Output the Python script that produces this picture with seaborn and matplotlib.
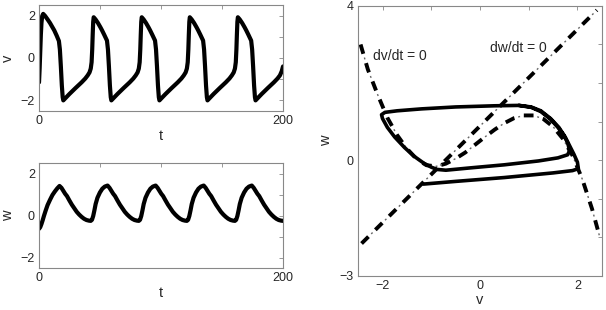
import numpy as np
import pandas as pd
import matplotlib
matplotlib.use('Agg')
import matplotlib.pyplot as plt
import seaborn as sns

# v(t)
t_v = [0, 0.5, 1.0, 1.5, 2.0, 2.6, 3.4, 5, 7, 9, 11, 12.5, 14.5, 16.3, 17.1, 17.9, 18.7, 19.4,
       19.9, 21.9, 24.9, 29.9, 34.9, 37.9, 39.9, 41.4, 42.4, 43.1, 43.6, 44.0, 44.4, 44.8, 46.3, 48.3, 50.3, 51.6, 53.4, 55.7, 56.5, 57.3, 58.1, 58.8,
       59.3, 61.3, 64.3, 69.3, 74.3, 77.3, 79.3, 80.8, 81.8, 82.5, 83.0, 83.4, 83.8, 84.2, 85.7, 87.7, 89.7, 91.0, 92.8, 95.1, 95.9, 96.7, 97.5, 98.2,
       98.7, 100.7, 103.7, 108.7, 113.7, 116.7, 118.7, 120.2, 121.2, 121.9, 122.4, 122.8, 123.2, 123.6, 125.1, 127.1, 129.1, 130.4, 132.2, 134.5, 135.3, 136.1, 136.9, 137.6,
       138.1, 140.1, 143.1, 148.1, 153.1, 156.1, 158.1, 159.6, 160.6, 161.3, 161.8, 162.2, 162.6, 163.0, 164.5, 166.5, 168.5, 169.8, 171.6, 173.9, 174.7, 175.5, 176.3, 177.0,
       177.5, 179.5, 182.5, 187.5, 192.5, 195.5, 197.5, 199.0, 200]
v_vals = [-1.15, -0.5, 0.3, 1.1, 1.65, 1.98, 2.08, 1.98, 1.82, 1.65, 1.45, 1.3, 1.05, 0.8, 0.4, -0.4, -1.3, -1.85,
          -2.0, -1.88, -1.7, -1.42, -1.15, -0.97, -0.82, -0.68, -0.5, -0.2, 0.4, 1.1, 1.7, 1.92, 1.82, 1.65, 1.45, 1.31, 1.1, 0.82, 0.4, -0.4, -1.3, -1.85,
          -2.0, -1.88, -1.7, -1.42, -1.15, -0.97, -0.82, -0.68, -0.5, -0.2, 0.4, 1.1, 1.7, 1.92, 1.82, 1.65, 1.45, 1.31, 1.1, 0.82, 0.4, -0.4, -1.3, -1.85,
          -2.0, -1.88, -1.7, -1.42, -1.15, -0.97, -0.82, -0.68, -0.5, -0.2, 0.4, 1.1, 1.7, 1.92, 1.82, 1.65, 1.45, 1.31, 1.1, 0.82, 0.4, -0.4, -1.3, -1.85,
          -2.0, -1.88, -1.7, -1.42, -1.15, -0.97, -0.82, -0.68, -0.5, -0.2, 0.4, 1.1, 1.7, 1.92, 1.82, 1.65, 1.45, 1.31, 1.1, 0.82, 0.4, -0.4, -1.3, -1.85,
          -2.0, -1.88, -1.7, -1.42, -1.15, -0.97, -0.82, -0.62, -0.4]

# w(t)
t_w = [0, 1, 2, 3, 4, 5.5, 7, 9, 11, 13, 15, 16.8,
       18.4, 19.9, 21.4, 22.9, 24.9, 26.9, 28.9, 30.9, 32.9, 34.9, 36.9, 38.9, 40.9, 42.4, 43.4, 44.4, 45.4, 46.4, 47.9, 49.9, 51.9, 53.9, 56.2,
       57.8, 59.3, 60.8, 62.3, 64.3, 66.3, 68.3, 70.3, 72.3, 74.3, 76.3, 78.3, 80.3, 81.8, 82.8, 83.8, 84.8, 85.8, 87.3, 89.3, 91.3, 93.3, 95.6,
       97.2, 98.7, 100.2, 101.7, 103.7, 105.7, 107.7, 109.7, 111.7, 113.7, 115.7, 117.7, 119.7, 121.2, 122.2, 123.2, 124.2, 125.2, 126.7, 128.7, 130.7, 132.7, 135.0,
       136.6, 138.1, 139.6, 141.1, 143.1, 145.1, 147.1, 149.1, 151.1, 153.1, 155.1, 157.1, 159.1, 160.6, 161.6, 162.6, 163.6, 164.6, 166.1, 168.1, 170.1, 172.1, 174.4,
       176.0, 177.5, 179.0, 180.5, 182.5, 184.5, 186.5, 188.5, 190.5, 192.5, 194.5, 196.5, 198.5, 200.0]
w_vals = [-0.63, -0.55, -0.4, -0.22, -0.02, 0.25, 0.5, 0.75, 0.98, 1.15, 1.3, 1.41,
          1.32, 1.18, 1.04, 0.93, 0.72, 0.52, 0.35, 0.18, 0.05, -0.06, -0.15, -0.21, -0.24, -0.25, -0.2, -0.02, 0.25, 0.55, 0.85, 1.1, 1.28, 1.38, 1.43,
          1.32, 1.18, 1.04, 0.93, 0.72, 0.52, 0.35, 0.18, 0.05, -0.06, -0.15, -0.21, -0.24, -0.25, -0.2, -0.02, 0.25, 0.55, 0.85, 1.1, 1.28, 1.38, 1.43,
          1.32, 1.18, 1.04, 0.93, 0.72, 0.52, 0.35, 0.18, 0.05, -0.06, -0.15, -0.21, -0.24, -0.25, -0.2, -0.02, 0.25, 0.55, 0.85, 1.1, 1.28, 1.38, 1.43,
          1.32, 1.18, 1.04, 0.93, 0.72, 0.52, 0.35, 0.18, 0.05, -0.06, -0.15, -0.21, -0.24, -0.25, -0.2, -0.02, 0.25, 0.55, 0.85, 1.1, 1.28, 1.38, 1.43,
          1.32, 1.18, 1.04, 0.93, 0.72, 0.52, 0.35, 0.18, 0.05, -0.06, -0.15, -0.21, -0.24, -0.25]

# phase plane trajectory (v, w)
traj_v = [-1.16, -0.5, 0.5, 1.5, 1.9, 2.02, 2.0, 1.93, 1.85, 1.75, 1.62, 1.45, 1.25, 1.05, 0.8, 0.3, -0.5, -1.2, -1.7, -1.95,
          -2.02, -2.0, -1.9, -1.75, -1.55, -1.35, -1.15, -1.0, -0.88, -0.7, -0.2, 0.5, 1.2, 1.6, 1.8, 1.84, 1.8, 1.72, 1.6,
          1.45, 1.25, 1.05, 0.8]
traj_w = [-0.62, -0.55, -0.45, -0.33, -0.27, -0.22, -0.05, 0.15, 0.35, 0.6, 0.85, 1.08, 1.28, 1.38, 1.42, 1.41, 1.38, 1.33, 1.28, 1.24,
          1.18, 1.08, 0.85, 0.6, 0.33, 0.1, -0.08, -0.18, -0.24, -0.26, -0.2, -0.12, -0.02, 0.06, 0.14, 0.25, 0.45, 0.65, 0.85,
          1.06, 1.26, 1.37, 1.42]

# nullclines
cubic_v = [-2.45, -2.3, -2.1, -1.9, -1.7, -1.5, -1.3, -1.1, -0.9, -0.7, -0.5, -0.3, -0.1, 0.1, 0.3, 0.5, 0.7, 0.9, 1.1, 1.3,
           1.5, 1.7, 1.9, 2.1, 2.3, 2.45]
cubic_w = [3.0, 2.35, 1.7, 1.1, 0.65, 0.3, 0.03, -0.13, -0.16, -0.09, 0.04, 0.2, 0.4, 0.6, 0.79, 0.96, 1.09, 1.16, 1.16, 1.07,
           0.87, 0.56, 0.12, -0.49, -1.26, -1.95]
lin_v = [-2.43, 2.4]
lin_w = [-2.16, 3.89]

sns.set_style('white')
plt.rcParams['font.family'] = ['Liberation Sans', 'DejaVu Sans']

fig = plt.figure(figsize=(6.06, 3.10), dpi=100)
ax1 = fig.add_axes([0.0644, 0.642, 0.4026, 0.342])
ax2 = fig.add_axes([0.0644, 0.135, 0.4026, 0.339])
ax3 = fig.add_axes([0.591, 0.110, 0.402, 0.871])

sns.lineplot(x=t_v, y=v_vals, ax=ax1, color='k', lw=3, sort=False, estimator=None)
sns.lineplot(x=t_w, y=w_vals, ax=ax2, color='k', lw=3, sort=False, estimator=None)

# nullclines: thick dashes with faint thin dots in the gaps
for xs, ys in ((cubic_v, cubic_w), (lin_v, lin_w)):
    sns.lineplot(x=xs, y=ys, ax=ax3, color='k', lw=2.8, sort=False, estimator=None,
                 linestyle=(0, (2.5, 2.5)))
    sns.lineplot(x=xs, y=ys, ax=ax3, color='#666666', lw=1.0, sort=False, estimator=None,
                 linestyle=(4.2, (1.4, 12.6)))
sns.lineplot(x=traj_v, y=traj_w, ax=ax3, color='k', lw=2.6, sort=False, estimator=None)

for ax in (ax1, ax2):
    ax.set_xlim(0, 200)
    ax.set_ylim(-2.5, 2.5)
    ax.set_xticks([0, 50, 100, 150, 200], ['0', '', '', '', '200'])
    ax.set_yticks([-2, -1, 0, 1, 2], ['\u22122', '', '0', '', '2'])
    ax.set_xlabel('t', fontsize=10.5, labelpad=1)
ax1.set_ylabel('v', fontsize=10.5, labelpad=4)
ax2.set_ylabel('w', fontsize=10.5, labelpad=4)

ax3.set_xlim(-2.5, 2.5)
ax3.set_ylim(-3, 4)
ax3.set_xticks([-2, -1, 0, 1, 2], ['\u22122', '', '0', '', '2'])
ax3.set_yticks([-3, -2, -1, 0, 1, 2, 3, 4], ['\u22123', '', '', '0', '', '', '', '4'])
ax3.set_xlabel('v', fontsize=10.5, labelpad=1)
ax3.set_ylabel('w', fontsize=10.5, labelpad=5)
ax3.text(-2.2, 2.6, 'dv/dt = 0', fontsize=10)
ax3.text(0.2, 2.8, 'dw/dt = 0', fontsize=10)

for ax in (ax1, ax2, ax3):
    for s in ax.spines.values():
        s.set_color('#888888')
        s.set_linewidth(0.8)
    ax.tick_params(direction='in', length=3, width=0.6, color='#888888',
                   top=True, right=True, labelsize=9, pad=3)

fig.savefig('out.png', dpi=100)
